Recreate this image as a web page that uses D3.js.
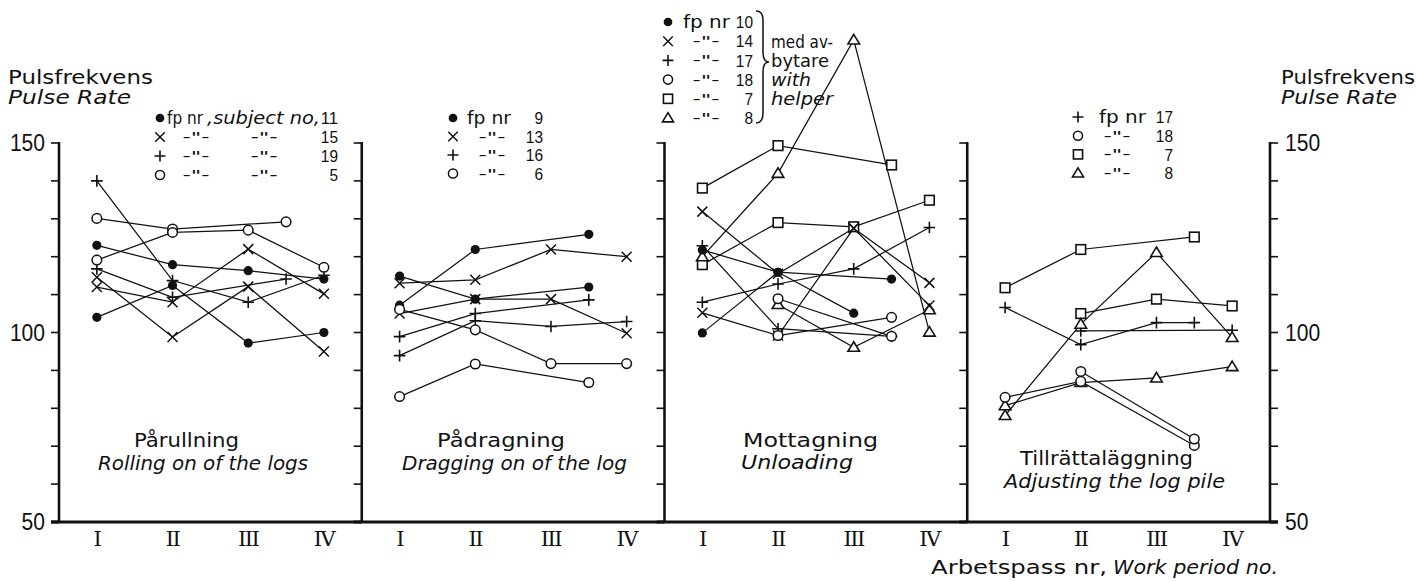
<!DOCTYPE html>
<html><head><meta charset="utf-8">
<script src="https://cdn.jsdelivr.net/npm/d3@7"></script>
<style>
body{margin:0;background:#fff;}
svg text{font-family:"DejaVu Sans",sans-serif;fill:#111;}
.num{font-family:"Liberation Sans","DejaVu Sans",sans-serif;}
.rom{font-family:"DejaVu Serif","Liberation Serif",serif;}
</style></head><body>
<svg id="c" width="1416" height="581"></svg>
<script>
// ---------- data ----------
const periods = [1, 2, 3, 4];
const periodLabels = ["I", "II", "III", "IV"];
const yTickValues = d3.range(50, 151, 10);
const yTickLabels = [50, 100, 150];
const panelTitlesSv = ["Pårullning", "Pådragning", "Mottagning", "Tillrättaläggning"];
const panelTitlesEn = ["Rolling on of the logs", "Dragging on of the log", "Unloading", "Adjusting the log pile"];

// series: [work period, pulse rate]
const rollingSeries = [
  {sym: "dot",    pts: [[1,123],[2,117.9],[3,116.3],[4,114.1]]},
  {sym: "dot",    pts: [[1,104],[2,112.4],[3,97.2],[4,100]]},
  {sym: "x",      pts: [[1,114.6],[2,98.8],[3,112.1],[4,95]]},
  {sym: "x",      pts: [[1,112],[2,108],[3,122],[4,110.2]]},
  {sym: "plus",   pts: [[1,140],[2,113.7],[3,108],[4,115.1]]},
  {sym: "plus",   pts: [[1,116.8],[2,109.3],[3.5,114.1]]},
  {sym: "circle", pts: [[1,130.1],[2,127.3],[3.5,129.2]]},
  {sym: "circle", pts: [[1,119.1],[2,126.4],[3,127],[4,117.2]]}
];
const draggingSeries = [
  {sym: "dot",    pts: [[1,107.2],[2,121.9],[3.5,125.9]]},
  {sym: "dot",    pts: [[1,114.9],[2,108.8],[3.5,112]]},
  {sym: "x",      pts: [[1,113],[2,113.9],[3,121.9],[4,120]]},
  {sym: "x",      pts: [[1,105],[2,108.8],[3,108.8],[4,99.8]]},
  {sym: "plus",   pts: [[1,98.9],[2,105],[3.5,108.6]]},
  {sym: "plus",   pts: [[1,93.9],[2,103.1],[3,101.6],[4,102.9]]},
  {sym: "circle", pts: [[1,106.1],[2,100.7],[3,91.8],[4,91.8]]},
  {sym: "circle", pts: [[1,83.1],[2,91.7],[3.5,86.8]]}
];
const unloadingSeries = [
  {sym: "square", pts: [[1,138.1],[2,149.3],[3.5,144.2]]},
  {sym: "square", pts: [[1,117.9],[2,129],[3,127.9],[4,134.9]]},
  {sym: "tri",    pts: [[1,120],[2,142],[3,177.2],[4,100.1]]},
  {sym: "tri",    pts: [[2,107.4],[3,96.1],[4,106]]},
  {sym: "dot",    pts: [[1,121.8],[2,115.9],[3,105.1]]},
  {sym: "dot",    pts: [[1,99.9],[2,115.9],[3.5,114.1]]},
  {sym: "x",      pts: [[1,131.9],[2,115.5],[3,127.5],[4,113.1]]},
  {sym: "x",      pts: [[1,105.2],[2,99.2],[3,127.5],[4,107.1]]},
  {sym: "plus",   pts: [[1,108],[2,112.8],[3,116.8],[4,127.7]]},
  {sym: "plus",   pts: [[1,122.9],[2,101],[3.5,99]]},
  {sym: "circle", pts: [[2,108.9],[3.5,99]]},
  {sym: "circle", pts: [[2,99.2],[3.5,104]]}
];
const adjustingSeries = [
  {sym: "square", pts: [[1,111.8],[2,121.9],[3.5,125.2]]},
  {sym: "square", pts: [[2,105],[3,108.8],[4,107]]},
  {sym: "plus",   pts: [[1,106.6],[2,96.8],[3,102.6],[3.5,102.6]]},
  {sym: "plus",   pts: [[2,100.4],[4,100.6]]},
  {sym: "tri",    pts: [[1,78.1],[2,102.2],[3,121.1],[4,98.7]]},
  {sym: "tri",    pts: [[1,80.7],[2,86.8],[3,88],[4,91]]},
  {sym: "circle", pts: [[1,82.9],[2,87.1],[3.5,70.2]]},
  {sym: "circle", pts: [[2,89.7],[3.5,71.9]]}
];
const allSeries = [rollingSeries, draggingSeries, unloadingSeries, adjustingSeries];

// legends: symbol + subject number
const legendSymbols1 = ["dot", "x", "plus", "circle"];
const legendNumbers1 = ["11", "15", "19", "5"];
const legendSymbols2 = ["dot", "x", "plus", "circle"];
const legendNumbers2 = ["9", "13", "16", "6"];
const legendSymbols3 = ["dot", "x", "plus", "circle", "square", "tri"];
const legendNumbers3 = ["10", "14", "17", "18", "7", "8"];
const legendSymbols4 = ["plus", "circle", "square", "tri"];
const legendNumbers4 = ["17", "18", "7", "8"];
const helperNote = ["med av-", "bytare", "with", "helper"];

// ---------- drawing ----------
const svg = d3.select("#c");
const plotLeft = 59, plotRight = 1270, plotTop = 143, plotBottom = 522;

const y = d3.scaleLinear().domain([50, 150]).range([plotBottom, plotTop]);
const panelScale = d3.scaleBand().domain(d3.range(4)).range([plotLeft, plotRight]).padding(0);
const xScales = d3.range(4).map(i =>
  d3.scaleLinear().domain([0.5, 4.5]).range([panelScale(i), panelScale(i) + panelScale.bandwidth()]));

function txt(g, x, yy, s, o = {}) {
  const t = g.append("text").attr("x", x).attr("y", yy).attr("dy", "0.36em")
    .attr("font-size", o.size || 19).attr("text-anchor", o.anchor || "start").text(s);
  if (o.italic) t.attr("font-style", "italic");
  if (o.cls) t.attr("class", o.cls);
  if (o.len) t.attr("textLength", o.len).attr("lengthAdjust", "spacingAndGlyphs");
  return t;
}

function drawSym(g, sym, cx, cy, k = 1) {
  const s = 5 * k;
  if (sym === "dot") {
    g.append("circle").attr("cx", cx).attr("cy", cy).attr("r", 4.6 * k).attr("fill", "#111");
  } else if (sym === "circle") {
    g.append("circle").attr("cx", cx).attr("cy", cy).attr("r", 4.8 * k)
      .attr("fill", "#fff").attr("stroke", "#111").attr("stroke-width", 1.5);
  } else if (sym === "x") {
    g.append("path").attr("d", `M${cx-s},${cy-s}L${cx+s},${cy+s}M${cx-s},${cy+s}L${cx+s},${cy-s}`)
      .attr("stroke", "#111").attr("stroke-width", 1.5).attr("fill", "none");
  } else if (sym === "plus") {
    const p = 5.8 * k;
    g.append("path").attr("d", `M${cx-p},${cy}L${cx+p},${cy}M${cx},${cy-p}L${cx},${cy+p}`)
      .attr("stroke", "#111").attr("stroke-width", 1.6).attr("fill", "none");
  } else if (sym === "square") {
    const q = 4.8 * k;
    g.append("rect").attr("x", cx - q).attr("y", cy - q).attr("width", 2 * q).attr("height", 2 * q)
      .attr("fill", "#fff").attr("stroke", "#111").attr("stroke-width", 1.6);
  } else if (sym === "tri") {
    const w = 5.8 * k, h = 9.6 * k;
    g.append("path").attr("d", `M${cx},${cy - h*0.58}L${cx + w},${cy + h*0.42}L${cx - w},${cy + h*0.42}Z`)
      .attr("fill", "#fff").attr("stroke", "#111").attr("stroke-width", 1.6);
  }
}

// axes frame: vertical lines with ticks
const axisG = svg.append("g");
const verticals = d3.range(5).map(i => i < 4 ? panelScale(i) : plotRight);
verticals.forEach((vx, i) => {
  axisG.append("line").attr("x1", vx).attr("x2", vx).attr("y1", y(150) - 1).attr("y2", y(50))
    .attr("stroke", "#111").attr("stroke-width", 2.6);
  const dir = i === 4 ? 1 : -1;
  yTickValues.forEach(v => {
    axisG.append("line").attr("x1", vx).attr("x2", vx + dir * 8).attr("y1", y(v)).attr("y2", y(v))
      .attr("stroke", "#111").attr("stroke-width", v === 50 ? 3 : 1.6);
  });
});
axisG.append("line").attr("x1", plotLeft - 8).attr("x2", plotRight + 8).attr("y1", y(50)).attr("y2", y(50))
  .attr("stroke", "#111").attr("stroke-width", 3);

// tick labels
yTickLabels.forEach(v => {
  const n = String(v).length;
  txt(axisG, plotLeft - 14, y(v), v, {cls: "num", size: 23, anchor: "end", len: n * 11.7});
  txt(axisG, plotRight + 15, y(v), v, {cls: "num", size: 23, anchor: "start", len: n * 11.7});
});

// period labels
xScales.forEach(xs => {
  periods.forEach((p, j) => {
    txt(axisG, xs(p), 538, periodLabels[j], {cls: "rom", size: 21, anchor: "middle"})
      .attr("letter-spacing", -1.5);
  });
});

// y-axis titles
txt(svg, 8, 77, "Pulsfrekvens", {len: 145});
txt(svg, 8, 97, "Pulse Rate", {italic: true, len: 123});
txt(svg, 1281, 77, "Pulsfrekvens", {len: 134});
txt(svg, 1281, 97, "Pulse Rate", {italic: true, len: 116});

// x-axis title
txt(svg, 931, 567, "Arbetspass nr,", {len: 176});
txt(svg, 1113, 567, "Work period no.", {italic: true, len: 165});

// panel titles
const titlePos = [
  {sv: [134, 440, 105], en: [98, 463, 210]},
  {sv: [437, 440, 128], en: [402, 463, 225]},
  {sv: [743, 440, 135], en: [741, 462, 112]},
  {sv: [1020, 458, 173], en: [1004, 481, 221]}
];
titlePos.forEach((tp, i) => {
  txt(svg, tp.sv[0], tp.sv[1], panelTitlesSv[i], {len: tp.sv[2]});
  txt(svg, tp.en[0], tp.en[1], panelTitlesEn[i], {italic: true, len: tp.en[2]});
});

// data lines and markers
const line = d3.line();
allSeries.forEach((series, i) => {
  const xs = xScales[i];
  const g = svg.append("g");
  series.forEach(s => {
    g.append("path").attr("d", line(s.pts.map(d => [xs(d[0]), y(d[1])])))
      .attr("fill", "none").attr("stroke", "#111").attr("stroke-width", 1.25);
  });
  series.forEach(s => s.pts.forEach(d => drawSym(g, s.sym, xs(d[0]), y(d[1]))));
});

// legends
const ditto = "-\"-";
function legend(symbols, numbers, o) {
  const g = svg.append("g");
  symbols.forEach((sym, r) => {
    const ry = o.y0 + r * o.dy;
    drawSym(g, sym, o.sx, ry, 0.95);
    if (r === 0) {
      txt(g, o.fx, ry, "fp nr", {size: 17, len: o.flen});
      if (o.subj) txt(g, o.subj, ry, ",subject no,", {size: 17, italic: true, len: 113});
    } else {
      txt(g, o.dx1, ry, ditto, {size: 14, anchor: "middle", len: 27});
      if (o.dx2) txt(g, o.dx2, ry, ditto, {size: 14, anchor: "middle", italic: true, len: 27});
    }
    txt(g, o.nx, ry, numbers[r], {cls: "num", size: 17, anchor: "end", len: numbers[r].length * 8.6});
  });
  return g;
}
legend(legendSymbols1, legendNumbers1, {sx: 160, y0: 118, dy: 19, fx: 167, flen: 36, subj: 207, dx1: 196, dx2: 264, nx: 338});
legend(legendSymbols2, legendNumbers2, {sx: 453, y0: 118, dy: 18.5, fx: 467, flen: 44, dx1: 492, nx: 543});
const lg3 = legend(legendSymbols3, legendNumbers3, {sx: 668, y0: 22, dy: 19.2, fx: 683, flen: 47, dx1: 706, nx: 753});
legend(legendSymbols4, legendNumbers4, {sx: 1078, y0: 117, dy: 18.7, fx: 1099, flen: 47, dx1: 1117, nx: 1173});

// brace + helper note in panel 3 legend
lg3.append("path")
  .attr("d", "M756,11 Q763,11 763,20 L763,52 Q763,62 769,62 Q763,62 763,72 L763,113 Q763,123 756,123")
  .attr("fill", "none").attr("stroke", "#111").attr("stroke-width", 1.5);
helperNote.forEach((t, k) => {
  txt(lg3, 771, [42, 61, 80, 99][k], t, {size: 17, italic: k >= 2, len: [62, 58, 40, 62][k]});
});
</script>
</body></html>
